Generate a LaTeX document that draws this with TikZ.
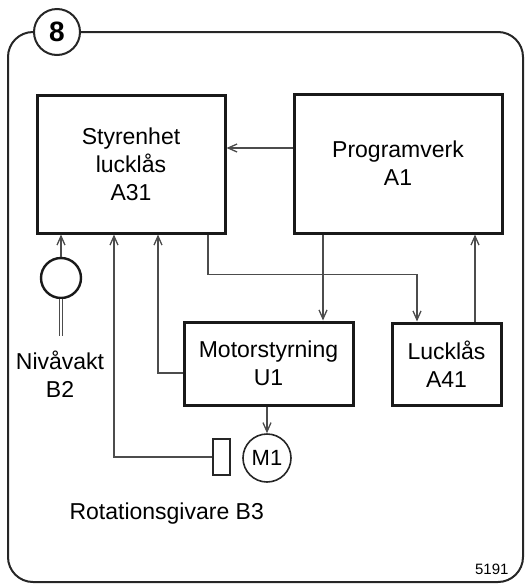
\documentclass[tikz,border=0pt]{standalone}
\usepackage{fontspec}
\setmainfont{Liberation Sans}
\usetikzlibrary{arrows.meta}
\begin{document}
\begin{tikzpicture}[x=1pt, y=-1pt,
  blk/.style = {draw=black!90, line width=3pt, align=center,
                font=\fontsize{23}{28}\selectfont},
  wire/.style = {draw=black!70, line width=1.3pt},
  arr/.style = {wire, -{Straight Barb[length=9pt,width=8pt]}},
  lbl/.style = {align=center, font=\fontsize{23}{28}\selectfont}]
\useasboundingbox (0,0) rectangle (529,587);
% frame and number
\draw[line width=2pt, black!85, rounded corners=25] (8,32) rectangle (523,582);
\node (badge) [circle, draw=black!85, line width=2pt, fill=white, minimum size=46,
  inner sep=0pt, font=\fontsize{28}{28}\selectfont\bfseries] at (57,32) {8};
% units
\node (A31) [blk, minimum width=188, minimum height=138] at (131,164) {Styrenhet\\lucklås\\A31};
\node (A1) [blk, minimum width=208, minimum height=139] at (398,163.5) {Programverk\\A1};
\node (U1) [blk, minimum width=169, minimum height=83] at (268.5,363.5) {Motorstyrning\\U1};
\node (A41) [blk, minimum width=109, minimum height=82] at (446.5,364) {Lucklås\\A41};
\node (M1) [circle, draw=black!85, line width=1.6pt, minimum size=48, inner sep=0pt,
  font=\fontsize{22}{22}\selectfont] at (267,458) {M1};
\node (B3) [draw=black!85, line width=1.6pt, minimum width=17, minimum height=36, inner sep=0pt] at (221.5,457) {};
\node (B2) [circle, draw=black!90, line width=2.4pt, minimum size=40, inner sep=0pt] at (61,278) {};
% texts
\node (lblB2) [lbl] at (60,374) {Nivåvakt\\B2};
\node (lblB3) [lbl, anchor=base west] at (66,519) {Rotationsgivare B3};
\node (num) [anchor=base east, font=\fontsize{15}{15}\selectfont] at (512,574) {5191};
% connections
\draw [arr] (A1.west |- 0,148) -- (A31.east |- 0,148);
\draw [arr] (A1.south -| 323,0) -- (U1.north -| 323,0);
\draw [arr] (A31.south -| 208,0) -- ++(0,40) -| (A41.north -| 417,0);
\draw [arr] (A41.north -| 475,0) -- (A1.south -| 475,0);
\draw [arr] (U1.south -| M1.north) -- (M1.north);
\draw [arr] (U1.west |- 0,373) -| (A31.south -| 158,0);
\draw [arr] (B3.west) -| (A31.south -| 114,0);
\draw [arr] (B2.north) -- (A31.south -| B2.north);
\draw [wire, double=white, double distance=2.6pt, line width=1.1pt] (B2.south) -- ++(0,37);
\end{tikzpicture}
\end{document}
